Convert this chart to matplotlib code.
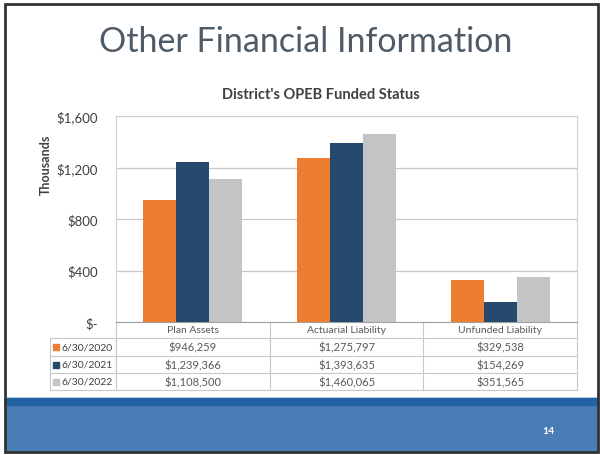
import matplotlib.pyplot as plt
from matplotlib.patches import Rectangle

plt.rcParams['font.family'] = ['Lato', 'DejaVu Sans']

categories = ['Plan Assets', 'Actuarial Liability', 'Unfunded Liability']
series_names = ['6/30/2020', '6/30/2021', '6/30/2022']
# values in dollars, plotted in thousands
values = {
    '6/30/2020': [946259, 1275797, 329538],
    '6/30/2021': [1239366, 1393635, 154269],
    '6/30/2022': [1108500, 1460065, 351565],
}
colors = ['#ED7D31', '#264A6E', '#C4C4C4']
yticks = [0, 400, 800, 1200, 1600]
ytick_labels = ['$-', '$400', '$800', '$1,200', '$1,600']

W, H = 600, 456
fig = plt.figure(figsize=(W / 100, H / 100), dpi=100)
fig.patch.set_facecolor('white')

# pixel-space overlay for slide decoration and the data table
bg = fig.add_axes([0, 0, 1, 1])
bg.set_xlim(0, W)
bg.set_ylim(H, 0)
bg.axis('off')

# plot area in pixels
px0, px1, py0, py1 = 116, 577, 117, 323
ax = fig.add_axes([px0 / W, (H - py1) / H, (px1 - px0) / W, (py1 - py0) / H])
n = len(categories)
bw = 0.215
for i, name in enumerate(series_names):
    xs = [c + (i - 1) * bw for c in range(n)]
    ax.bar(xs, [v / 1000 for v in values[name]], width=bw, color=colors[i], zorder=3)
ax.set_xlim(-0.5, n - 0.5)
ax.set_ylim(0, 1600)
ax.set_yticks(yticks)
ax.set_yticklabels(ytick_labels, fontsize=9.5, color='#404040')
ax.set_xticks([])
ax.tick_params(axis='y', length=0, pad=13)
ax.grid(axis='y', color='#C8C8C8', linewidth=0.9, zorder=0)
for s in ax.spines.values():
    s.set_color('#D0D0D0')
    s.set_linewidth(0.8)
ax.spines['bottom'].set_color('#A0A0A0')
ax.set_ylabel('Thousands', fontsize=9, fontweight='bold', color='#404040')
ax.yaxis.set_label_coords(-0.14, 0.77)

# titles
bg.text(306, 42, 'Other Financial Information', fontsize=24.5, color='#4F5B66',
        ha='center', va='center')
bg.text(321, 95, "District's OPEB Funded Status", fontsize=10.5, fontweight='bold',
        color='#404040', ha='center', va='center')

# data table under the plot
col_w = (px1 - px0) / n
row_y = [339, 357, 374, 391]
line_kw = dict(color='#C8C8C8', linewidth=0.8)
for k in range(n + 1):
    bg.plot([px0 + k * col_w] * 2, [py1, row_y[-1]], **line_kw)
bg.plot([50, 50], [row_y[0], row_y[-1]], **line_kw)
for y in row_y:
    bg.plot([50, px1], [y, y], **line_kw)
for k, cat in enumerate(categories):
    bg.text(px0 + (k + 0.5) * col_w, 331, cat, fontsize=7.5, color='#595959',
            ha='center', va='center')
for r, name in enumerate(series_names):
    yc = (row_y[r] + row_y[r + 1]) / 2
    bg.add_patch(Rectangle((53, yc - 3), 6, 6, color=colors[r]))
    bg.text(61, yc, name, fontsize=7.5, color='#404040', ha='left', va='center')
    for k in range(n):
        bg.text(px0 + (k + 0.5) * col_w, yc, f'${values[name][k]:,}', fontsize=8,
                color='#595959', ha='center', va='center')

# bottom band and slide border
bg.add_patch(Rectangle((5, 399), 593, 53, color='#4A7DB5', zorder=1))
bg.add_patch(Rectangle((5, 399), 593, 7, color='#2263A3', zorder=1))
bg.text(548, 432, '14', fontsize=7.5, fontweight='bold', color='white',
        ha='center', va='center', zorder=2)
bg.add_patch(Rectangle((5, 5), 593, 448, fill=False, edgecolor='#333333',
                       linewidth=2, zorder=3))

fig.savefig('out.png', dpi=100)
